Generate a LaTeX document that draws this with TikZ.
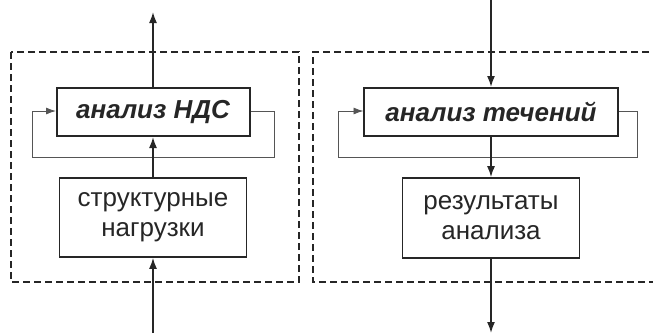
\documentclass[tikz,border=0pt]{standalone}
\usepackage{fontspec}
\setmainfont{Liberation Sans}
\usetikzlibrary{arrows.meta}
\definecolor{ink}{HTML}{262626}
\definecolor{loopc}{HTML}{555555}
\begin{document}
\begin{tikzpicture}[x=1pt,y=-1pt,
  mainbox/.style={draw=ink,line width=2pt,inner sep=0pt,font=\fontsize{26}{30}\selectfont\bfseries\itshape,text=ink},
  subbox/.style={draw=ink,line width=1.6pt,inner sep=0pt,align=center,font=\fontsize{26}{30}\selectfont,text=ink},
  flow/.style={draw=ink,line width=1.6pt,-{Latex[length=11pt,width=8pt]}},
  loopline/.style={draw=loopc,line width=0.9pt},
  looparrow/.style={draw=loopc,line width=0.9pt,-{Latex[length=10pt,width=7pt]},shorten >=-0.5pt},
  frame/.style={draw=ink,line width=1.4pt,dash pattern=on 7pt off 4pt}]
\useasboundingbox (0,0) rectangle (653,333);
% dashed frames
\draw[frame] (11,52) rectangle (299,282);
\draw[frame] (660,52) -- (313,52) -- (313,282) -- (660,282);
% left column
\node[mainbox,minimum width=193pt,minimum height=48pt] (LT) at (153,112) {анализ НДС};
\node[subbox,minimum width=187pt,minimum height=79pt] (LB) at (153,217.5) {структурные\\нагрузки};
\coordinate (LTop) at (153,12);
\coordinate (LBot) at (153,333);
\coordinate (LR1) at (274,111);
\coordinate (LR2) at (274,157);
\coordinate (LL2) at (32,157);
\coordinate (LL1) at (32,111);
\draw[loopline] (LT.east |- LR1) -- (LR1) -- (LR2) -- (LL2) -- (LL1);
\draw[looparrow] (LL1) -- (LT.west |- LL1);
\draw[flow] (LT.north) -- (LTop);
\draw[flow] (LB.north) -- (LT.south);
\draw[flow] (LBot) -- (LB.south);
% right column
\node[mainbox,minimum width=254pt,minimum height=48pt] (RT) at (491,112) {анализ течений};
\node[subbox,minimum width=177pt,minimum height=80pt] (RB) at (491,218) {результаты\\анализа};
\coordinate (RTop) at (491,0);
\coordinate (RBot) at (491,333);
\coordinate (RR1) at (637,111);
\coordinate (RR2) at (637,157);
\coordinate (RL2) at (338,157);
\coordinate (RL1) at (338,111);
\draw[loopline] (RT.east |- RR1) -- (RR1) -- (RR2) -- (RL2) -- (RL1);
\draw[looparrow] (RL1) -- (RT.west |- RL1);
\draw[flow] (RTop) -- (RT.north);
\draw[flow] (RT.south) -- (RB.north);
\draw[flow] (RB.south) -- (RBot);
\end{tikzpicture}
\end{document}
